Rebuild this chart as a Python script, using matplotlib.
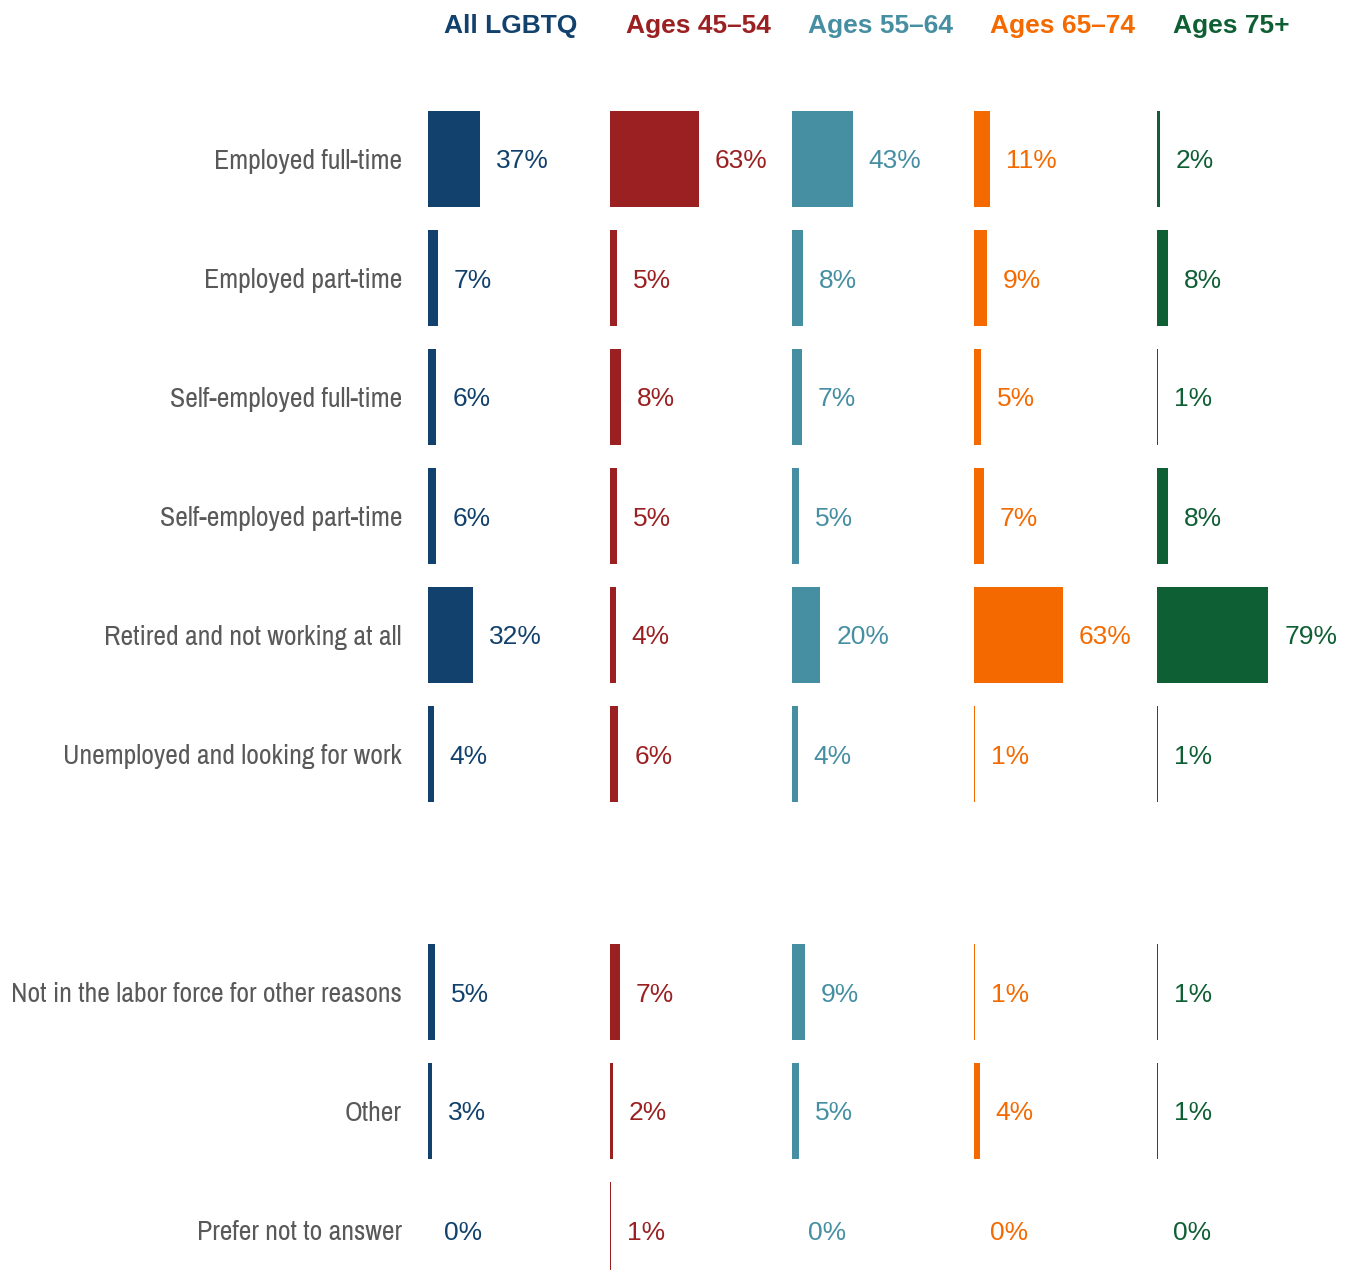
import matplotlib
matplotlib.use('Agg')

import matplotlib.pyplot as plt

# Data
categories = [
  'Employed full-time',
  'Employed part-time',
  'Self-employed full-time',
  'Self-employed part-time',
  'Retired and not working at all',
  'Unemployed and looking for work',
  'Not in the labor force for other reasons',
  'Other',
  'Prefer not to answer',
]
groups = ['All LGBTQ', 'Ages 45\u201354', 'Ages 55\u201364', 'Ages 65\u201374', 'Ages 75+']
all_lgbtq = [37, 7, 6, 6, 32, 4, 5, 3, 0]
ages_45_54 = [63, 5, 8, 5, 4, 6, 7, 2, 1]
ages_55_64 = [43, 8, 7, 5, 20, 4, 9, 5, 0]
ages_65_74 = [11, 9, 5, 7, 63, 1, 1, 4, 0]
ages_75_plus = [2, 8, 1, 8, 79, 1, 1, 1, 0]
series = [all_lgbtq, ages_45_54, ages_55_64, ages_65_74, ages_75_plus]

# Layout / style
colors = ['#11416c', '#9b2022', '#468fa3', '#f46a00', '#0f5f34']
rows = [0, 1, 2, 3, 4, 5, 7, 8, 9]   # gap after the 6th row
W, H = 1351, 1270
px_per_pct = 1.41
panel_x = [428, 610, 792, 974, 1157]
panel_w = 185
ax_top, ax_bot = 60, 1270
row0, row_step = 159, 119
label_gap = 16 / px_per_pct

narrow = ['Liberation Sans Narrow', 'Archivo Narrow', 'Roboto Condensed', 'Liberation Sans', 'DejaVu Sans']
regular = ['Liberation Sans', 'DejaVu Sans']

fig = plt.figure(figsize=(W / 100, H / 100), dpi=100)

ytop = -(row0 - ax_top) / row_step
ybot = ytop + (ax_bot - ax_top) / row_step

for i, (name, vals, col) in enumerate(zip(groups, series, colors)):
  ax = fig.add_axes([panel_x[i] / W, 1 - ax_bot / H, panel_w / W, (ax_bot - ax_top) / H])
  ax.set_xlim(0, panel_w / px_per_pct)
  ax.set_ylim(ybot, ytop)
  ax.axis('off')
  ax.barh(rows, vals, height=0.8, color=col, linewidth=0)
  for y, v in zip(rows, vals):
    ax.text(v + label_gap, y, '%d%%' % v, color=col, fontsize=19,
            family=regular, va='center_baseline', ha='left')
  # header
  fig.text((panel_x[i] + 16) / W, 1 - 26 / H, name, color=col, fontsize=19,
           fontweight='bold', family=regular, va='center', ha='left')

# category labels
for y, cat in zip(rows, categories):
  yp = row0 + row_step * y
  fig.text(402 / W, 1 - yp / H, cat, color='#595959', fontsize=20,
           family=narrow, va='center_baseline', ha='right')

plt.savefig('out.png', dpi=100)
